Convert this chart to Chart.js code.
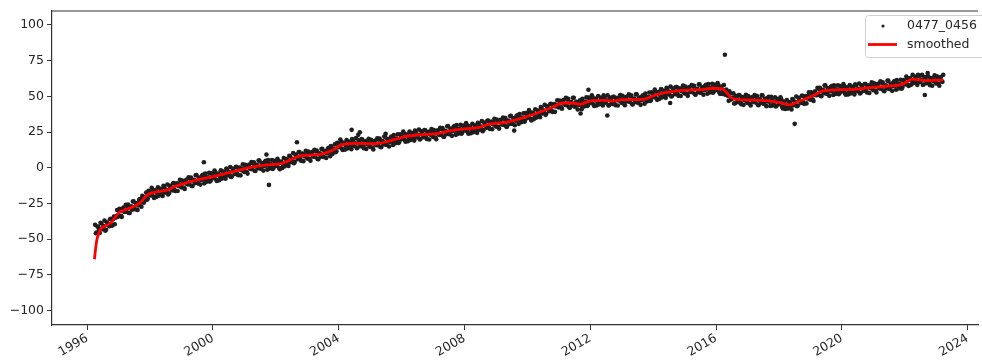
<!DOCTYPE html>
<html>
<head>
<meta charset="utf-8">
<script src="https://cdn.jsdelivr.net/npm/chart.js@4.4.1/dist/chart.umd.min.js"></script>
<style>
  body { margin: 0; background: #fff; }
  #wrap { width: 982px; height: 360px; }
</style>
</head>
<body>
<div id="wrap"><canvas id="tsChart" width="982" height="360"></canvas></div>
<script>
// samples, two interleaved passes every 0.05 yr (one row per year)
const scatterStep = 0.05;
const scatterStartA = 1996.25;
const scatterValuesA = [
  -39.9, -45.4, -41.3, -45.6, -39.0, -41.8, -37.0, -43.4, -39.2, -40.9, -35.7, -40.3, -34.1, -34.9, -29.6, -33.7, -30.1, -34.4, -27.9, -30.8,
  -30.8, -25.8, -31.6, -27.0, -23.6, -28.8, -24.8, -29.5, -22.6, -24.4, -19.7, -24.4, -20.3, -22.3, -16.2, -19.4, -14.0, -20.0, -16.2, -20.5,
  -13.7, -19.0, -15.2, -19.7, -13.4, -16.5, -11.7, -17.9, -13.9, -15.9, -10.7, -16.3, -10.9, -12.7, -8.5, -13.8, -10.3, -14.8, -8.5, -11.6,
  -11.6, -6.8, -12.8, -8.4, -5.2, -10.7, -6.9, -11.8, -5.6, -8.0, -4.0, -9.8, -6.6, -9.7, -3.8, -7.3, -2.0, -8.2, -4.5, -8.7,
  -1.8, -7.0, -3.1, -7.7, -1.3, -4.3, 0.5, -5.9, -2.1, -4.4, 0.6, -5.2, 0.1, -1.7, 2.4, -2.9, 0.5, -4.1, 2.2, -0.9,
  -1.0, 3.8, -2.3, 2.0, 5.0, -0.5, 3.1, -2.0, 4.1, 1.5, 5.3, -0.6, 2.4, -0.8, 4.9, 1.3, 6.3, 0.0, 3.9, -0.2,
  6.8, 1.7, 5.7, 1.3, 7.9, 5.1, 10.2, 4.0, 8.0, 6.0, 10.9, 4.9, 10.0, 8.0, 11.9, 6.4, 9.6, 4.9, 11.0, 7.7,
  7.5, 12.1, 5.9, 10.1, 13.1, 7.7, 11.6, 6.8, 13.2, 10.9, 15.1, 9.6, 13.4, 10.9, 17.4, 14.3, 19.7, 13.5, 17.1, 12.7,
  19.4, 14.0, 17.7, 13.0, 19.2, 16.0, 20.7, 14.1, 17.6, 15.1, 19.7, 13.6, 18.6, 16.4, 20.2, 14.6, 17.6, 12.8, 18.9, 15.7,
  15.7, 20.5, 14.4, 18.7, 21.8, 16.2, 19.9, 14.9, 21.2, 18.8, 22.9, 17.2, 20.4, 17.4, 23.4, 20.0, 25.4, 19.3, 22.9, 18.5,
  25.3, 19.9, 23.6, 19.0, 25.2, 22.0, 26.8, 20.2, 23.8, 21.4, 26.2, 20.1, 25.2, 23.2, 27.0, 21.5, 24.6, 20.0, 26.2, 23.0,
  23.0, 27.7, 21.6, 25.9, 29.0, 23.6, 27.3, 22.3, 28.4, 25.9, 29.8, 23.9, 27.0, 23.8, 29.6, 26.1, 31.2, 24.9, 28.5, 24.1,
  30.8, 25.4, 29.1, 24.4, 30.7, 27.7, 32.6, 26.3, 30.2, 28.0, 33.1, 27.2, 32.4, 30.4, 34.3, 28.8, 32.0, 27.4, 33.5, 30.2,
  30.0, 34.7, 28.6, 33.0, 36.2, 30.8, 34.6, 29.7, 36.0, 33.6, 37.6, 31.9, 35.1, 32.2, 38.2, 34.9, 40.3, 34.2, 38.1, 34.0,
  40.9, 35.8, 39.8, 35.4, 41.9, 39.0, 44.0, 37.7, 41.7, 39.6, 44.7, 39.0, 44.5, 42.9, 47.2, 42.1, 45.7, 41.3, 47.4, 44.0,
  43.7, 48.2, 41.9, 46.0, 48.9, 42.9, 46.1, 40.7, 46.5, 43.9, 48.2, 42.8, 46.2, 43.2, 49.1, 45.5, 50.6, 44.3, 47.9, 43.5,
  50.2, 44.8, 48.4, 43.6, 49.5, 46.1, 50.6, 43.8, 47.2, 44.7, 49.6, 43.7, 48.9, 47.0, 50.9, 45.4, 48.5, 43.7, 49.7, 46.4,
  46.1, 50.6, 44.3, 48.4, 51.3, 45.6, 49.1, 44.0, 50.0, 47.7, 51.9, 46.3, 49.6, 46.7, 52.8, 49.4, 54.7, 48.6, 52.4, 48.2,
  55.0, 49.7, 53.5, 48.9, 55.2, 52.0, 56.8, 50.2, 53.9, 51.5, 56.4, 50.4, 55.6, 53.6, 57.5, 51.9, 55.1, 50.3, 56.4, 53.0,
  52.8, 57.3, 51.1, 55.2, 58.2, 52.5, 56.2, 51.1, 57.3, 54.7, 58.6, 52.7, 55.7, 52.5, 58.2, 54.4, 59.3, 52.8, 56.3, 51.7,
  57.9, 51.1, 53.2, 46.8, 52.0, 48.1, 52.0, 45.1, 48.5, 45.9, 50.6, 44.4, 49.4, 47.2, 51.0, 45.3, 48.3, 43.5, 49.4, 46.0,
  45.6, 50.1, 43.7, 47.8, 50.6, 44.9, 48.3, 43.1, 48.9, 46.1, 49.7, 43.5, 46.2, 42.8, 48.3, 44.4, 49.3, 42.6, 45.8, 41.1,
  47.4, 41.7, 45.2, 40.8, 47.4, 44.7, 49.8, 43.5, 47.4, 45.3, 50.4, 44.7, 50.2, 48.5, 52.7, 47.6, 51.1, 46.7, 53.4, 50.7,
  51.0, 56.0, 50.1, 54.5, 57.5, 51.9, 55.5, 50.3, 56.4, 53.8, 57.7, 51.7, 54.7, 51.5, 57.2, 53.5, 58.6, 52.2, 55.8, 51.3,
  57.9, 52.5, 56.1, 51.3, 57.5, 54.2, 58.9, 52.4, 56.0, 53.7, 58.5, 52.6, 57.7, 55.7, 59.7, 54.2, 57.4, 52.7, 58.8, 55.5,
  55.3, 59.8, 53.6, 57.7, 60.8, 55.2, 58.8, 53.8, 59.9, 57.4, 61.3, 55.4, 58.5, 55.3, 61.3, 58.2, 63.8, 58.0, 62.0, 58.0,
  65.1, 59.5, 62.9, 58.0, 64.0, 60.6, 65.0, 58.2, 61.6, 59.1, 63.8, 57.8, 62.8, 60.7, 64.6, 59.0, 62.2, 57.4, 63.5, 60.1
];
const scatterStartB = 1996.275;
const scatterValuesB = [
  -45.8, -41.1, -43.4, -38.5, -43.0, -40.7, -44.0, -38.1, -40.0, -36.0, -40.5, -35.9, -39.5, -33.7, -34.2, -28.8, -33.6, -28.9, -30.7, -25.9,
  -26.9, -31.7, -27.8, -29.4, -23.5, -29.0, -24.9, -26.3, -21.9, -27.3, -22.2, -23.1, -17.3, -21.7, -16.9, -18.6, -15.4, -21.1, -15.7, -18.0,
  -19.6, -14.7, -17.3, -12.6, -17.4, -15.4, -18.7, -12.6, -14.7, -11.0, -15.5, -11.9, -16.3, -11.5, -13.1, -8.9, -13.8, -9.3, -11.3, -6.7,
  -7.7, -12.7, -9.0, -10.8, -5.1, -10.9, -7.0, -8.6, -4.9, -10.9, -6.5, -8.5, -3.6, -9.1, -4.5, -6.5, -3.4, -9.3, -4.0, -6.2,
  -7.7, -2.7, -5.2, -0.6, -5.3, -3.2, -6.5, -0.6, -2.9, 0.5, -4.2, -0.8, -5.3, -0.5, -2.2, 2.0, -3.0, 1.4, -0.6, 4.0,
  2.9, -2.1, 1.5, -0.4, 5.1, -0.7, 3.0, 1.2, 4.8, -1.4, 2.8, 0.7, 5.4, -0.2, 4.2, 2.1, 4.9, -1.1, 4.4, 2.3,
  0.9, 6.0, 3.6, 8.4, 3.9, 6.2, 3.2, 9.3, 7.2, 10.9, 6.1, 9.3, 4.6, 9.2, 7.3, 11.3, 6.1, 10.4, 8.2, 12.6,
  11.4, 6.2, 9.7, 7.7, 13.2, 7.5, 11.5, 10.0, 13.9, 8.0, 12.6, 10.9, 16.4, 11.5, 16.7, 15.1, 18.3, 12.4, 17.6, 15.2,
  13.5, 18.3, 15.6, 20.1, 15.2, 17.1, 13.7, 19.4, 16.8, 20.0, 14.9, 18.0, 13.2, 17.6, 15.6, 19.5, 14.1, 18.3, 16.1, 20.6,
  19.6, 14.6, 18.2, 16.3, 21.9, 16.0, 19.8, 18.1, 21.9, 15.9, 20.4, 18.5, 23.4, 18.0, 22.7, 20.8, 24.0, 18.2, 23.4, 21.0,
  19.4, 24.2, 21.5, 26.1, 21.2, 23.1, 19.8, 25.5, 23.0, 26.3, 21.4, 24.5, 19.8, 24.4, 22.4, 26.4, 21.1, 25.5, 23.4, 27.9,
  26.9, 21.8, 25.4, 23.5, 29.1, 23.4, 27.2, 25.5, 29.1, 23.0, 27.3, 25.2, 30.0, 24.4, 28.9, 26.9, 29.8, 23.8, 29.0, 26.6,
  24.9, 29.7, 27.0, 31.5, 26.7, 28.8, 25.6, 31.6, 29.4, 32.9, 28.3, 31.6, 27.0, 31.6, 29.7, 33.7, 28.5, 32.9, 30.7, 35.1,
  33.9, 28.8, 32.4, 30.6, 36.3, 30.6, 34.5, 32.9, 36.7, 30.7, 35.1, 33.2, 38.1, 32.8, 37.5, 35.7, 38.9, 33.1, 38.6, 36.5,
  35.0, 40.1, 37.7, 42.5, 37.9, 40.1, 37.0, 43.0, 40.9, 44.5, 39.9, 43.4, 39.1, 44.1, 42.6, 47.0, 42.2, 46.8, 44.6, 48.9,
  47.6, 42.3, 45.7, 43.6, 49.0, 42.7, 46.0, 43.9, 47.2, 41.0, 45.7, 44.1, 49.2, 43.8, 48.4, 46.3, 49.2, 43.2, 48.4, 46.0,
  44.3, 49.1, 46.3, 50.7, 45.5, 47.2, 43.6, 49.1, 46.4, 49.6, 44.8, 48.1, 43.5, 48.2, 46.3, 50.3, 45.0, 49.2, 46.9, 51.3,
  50.0, 44.7, 48.1, 46.0, 51.4, 45.4, 49.0, 47.2, 50.7, 44.8, 49.4, 47.6, 52.6, 47.3, 52.1, 50.2, 53.3, 47.5, 52.9, 50.7,
  49.1, 54.0, 51.4, 56.0, 51.2, 53.1, 49.8, 55.5, 53.1, 56.4, 51.6, 54.8, 50.2, 54.8, 52.9, 56.8, 51.6, 55.8, 53.6, 57.9,
  56.7, 51.4, 54.9, 52.8, 58.3, 52.3, 56.1, 54.3, 58.0, 51.8, 56.1, 54.0, 58.7, 53.1, 57.5, 55.2, 57.9, 51.7, 56.8, 54.2,
  51.4, 54.7, 50.3, 53.5, 47.7, 48.9, 44.9, 50.4, 47.7, 50.8, 45.8, 48.8, 44.0, 48.4, 46.4, 50.2, 44.8, 49.0, 46.6, 50.9,
  49.5, 44.2, 47.5, 45.4, 50.7, 44.7, 48.2, 46.3, 49.6, 43.2, 47.2, 44.8, 49.2, 43.4, 47.6, 45.2, 47.9, 41.5, 46.3, 43.6,
  41.4, 45.9, 43.3, 48.1, 43.7, 46.0, 43.0, 49.0, 46.8, 50.4, 45.8, 49.3, 45.0, 49.9, 48.3, 52.7, 47.8, 52.5, 50.9, 55.9,
  55.1, 50.3, 54.0, 52.1, 57.6, 51.7, 55.4, 53.5, 57.1, 50.9, 55.2, 53.0, 57.7, 52.1, 56.5, 54.3, 57.2, 51.1, 56.3, 53.8,
  52.0, 56.8, 54.0, 58.4, 53.5, 55.3, 51.9, 57.7, 55.2, 58.6, 53.7, 57.0, 52.3, 56.9, 55.1, 59.1, 53.9, 58.2, 56.0, 60.4,
  59.2, 54.0, 57.4, 55.4, 61.0, 55.1, 58.8, 57.1, 60.7, 54.6, 58.9, 56.8, 61.6, 56.1, 60.9, 59.3, 62.7, 57.2, 62.8, 60.8,
  59.2, 63.8, 60.8, 65.1, 60.0, 61.7, 58.0, 63.5, 60.8, 64.0, 59.0, 62.2, 57.4, 61.9, 60.0, 63.9, 58.7, 62.9, 60.7, 65.0
];

// stray points away from the band
const outlierYears  = [1999.71, 2001.70, 2001.78, 2002.67, 2004.41, 2004.62, 2004.67, 2005.49, 2009.58, 2011.69, 2011.94, 2012.54, 2014.54, 2016.28, 2018.50, 2022.64, 2022.73];
const outlierValues = [3.8, 9.2, -12.0, 17.8, 26.5, 23.0, 24.8, 23.7, 26.0, 38.0, 54.6, 36.5, 45.3, 79.0, 30.7, 50.9, 66.3];

// red smoothed curve
const smoothYears = [
  1996.23, 1996.27, 1996.31, 1996.36, 1996.44, 1996.60, 1996.75, 1996.88, 1997.00, 1997.30,
  1997.60, 1997.75, 1997.90, 1998.13, 1998.55, 1998.80, 1999.08, 1999.60, 2000.14, 2000.66,
  2001.19, 2001.72, 2002.10, 2002.41, 2002.72, 2003.10, 2003.46, 2003.78, 2004.09, 2004.62,
  2005.15, 2005.57, 2006.10, 2006.63, 2007.05, 2007.58, 2008.00, 2008.42, 2008.79, 2009.32,
  2009.85, 2010.38, 2010.80, 2011.11, 2011.43, 2011.69, 2011.91, 2012.38, 2012.70, 2013.01,
  2013.65, 2014.07, 2014.38, 2014.86, 2015.49, 2015.92, 2016.20, 2016.32, 2016.45, 2016.60,
  2017.08, 2017.60, 2018.03, 2018.34, 2018.66, 2019.08, 2019.40, 2019.93, 2020.50, 2020.77,
  2021.40, 2021.93, 2022.10, 2022.25, 2022.46, 2022.67, 2023.00, 2023.22
];
const smoothValues = [
  -64.0, -56.0, -50.0, -46.5, -42.5, -40.5, -38.5, -35.0, -31.5, -28.7,
  -25.7, -23.0, -19.2, -17.3, -15.5, -13.0, -11.0, -8.0, -5.5, -2.7,
  0.3, 2.0, 2.5, 5.0, 8.0, 8.8, 9.5, 12.0, 16.0, 17.0,
  16.8, 18.5, 21.8, 23.2, 23.7, 26.0, 27.2, 28.0, 30.5, 31.8,
  34.9, 38.8, 42.3, 45.3, 45.3, 44.3, 46.3, 47.2, 46.6, 47.6,
  47.8, 50.9, 52.5, 53.9, 54.6, 55.6, 55.2, 53.0, 49.5, 48.0,
  47.4, 46.9, 45.5, 44.0, 46.7, 50.4, 53.8, 54.6, 55.0, 55.8,
  57.0, 58.5, 60.5, 62.0, 61.5, 61.0, 61.2, 61.4
];

const xTicks = [1996, 2000, 2004, 2008, 2012, 2016, 2020, 2024];
const yTicks = [-100, -75, -50, -25, 0, 25, 50, 75, 100];

const seriesName = '0477_0456';
const smoothName = 'smoothed';

const pts = [];
scatterValuesA.forEach((v, i) => pts.push({ x: scatterStartA + i * scatterStep, y: v }));
scatterValuesB.forEach((v, i) => pts.push({ x: scatterStartB + i * scatterStep, y: v }));
outlierYears.forEach((yr, i) => pts.push({ x: yr, y: outlierValues[i] }));
const smoothPts = smoothYears.map((yr, i) => ({ x: yr, y: smoothValues[i] }));

const FONT = { family: 'DejaVu Sans', size: 12.5 };
const INK = '#262626';

// top spine + legend box in the upper right
const extras = {
  id: 'extras',
  afterDraw(chart) {
    const ctx = chart.ctx;
    const a = chart.chartArea;
    ctx.save();
    ctx.strokeStyle = '#333';
    ctx.lineWidth = 1.2;
    ctx.beginPath();
    ctx.moveTo(a.left, a.top + 0.5);
    ctx.lineTo(a.right, a.top + 0.5);
    ctx.stroke();

    const bx = 865.5, by = 15.5, bw = 130, bh = 42;
    ctx.fillStyle = 'rgba(255,255,255,0.85)';
    ctx.strokeStyle = '#d0d0d0';
    ctx.lineWidth = 1;
    ctx.beginPath();
    ctx.roundRect(bx, by, bw, bh, 3);
    ctx.fill();
    ctx.stroke();

    ctx.fillStyle = '#222';
    ctx.beginPath();
    ctx.arc(883, 26, 1.6, 0, Math.PI * 2);
    ctx.fill();

    ctx.strokeStyle = '#ff0000';
    ctx.lineWidth = 2.8;
    ctx.beginPath();
    ctx.moveTo(868, 44.5);
    ctx.lineTo(897, 44.5);
    ctx.stroke();

    ctx.fillStyle = INK;
    ctx.font = FONT.size + 'px ' + FONT.family;
    ctx.textBaseline = 'middle';
    ctx.textAlign = 'left';
    ctx.fillText(seriesName, 907, 26);
    ctx.fillText(smoothName, 907, 44.5);
    ctx.restore();
  }
};

new Chart(document.getElementById('tsChart'), {
  type: 'scatter',
  data: {
    datasets: [
      {
        label: smoothName,
        data: smoothPts,
        showLine: true,
        borderColor: '#ff0000',
        borderWidth: 2.8,
        pointRadius: 0,
        cubicInterpolationMode: 'monotone',
        order: 0
      },
      {
        label: seriesName,
        data: pts,
        backgroundColor: '#1e1e1e',
        borderWidth: 0,
        pointRadius: 2.3,
        order: 1
      }
    ]
  },
  options: {
    responsive: false,
    animation: false,
    layout: { padding: { top: 9, right: 0, left: 0, bottom: 0 } },
    plugins: { legend: { display: false }, tooltip: { enabled: false } },
    scales: {
      x: {
        type: 'linear',
        min: 1994.88,
        max: 2024.33,
        afterBuildTicks: s => { s.ticks = xTicks.map(v => ({ value: v })); },
        afterFit: s => { s.height = 35; },
        grid: { drawOnChartArea: false, drawTicks: true, tickLength: 5, tickColor: '#333', tickWidth: 1 },
        border: { color: '#333', width: 1.2 },
        ticks: {
          autoSkip: false,
          minRotation: 30,
          maxRotation: 30,
          padding: 1,
          color: INK,
          font: FONT,
          callback: v => String(v)
        }
      },
      y: {
        min: -110,
        max: 110,
        afterBuildTicks: s => { s.ticks = yTicks.map(v => ({ value: v })); },
        afterFit: s => { s.width = 52; },
        grid: { drawOnChartArea: false, drawTicks: true, tickLength: 5, tickColor: '#333', tickWidth: 1 },
        border: { color: '#333', width: 1.2 },
        ticks: {
          padding: 3,
          color: INK,
          font: FONT,
          callback: v => v < 0 ? '\u2212' + Math.abs(v) : String(v)
        }
      }
    }
  },
  plugins: [extras]
});
</script>
</body>
</html>
